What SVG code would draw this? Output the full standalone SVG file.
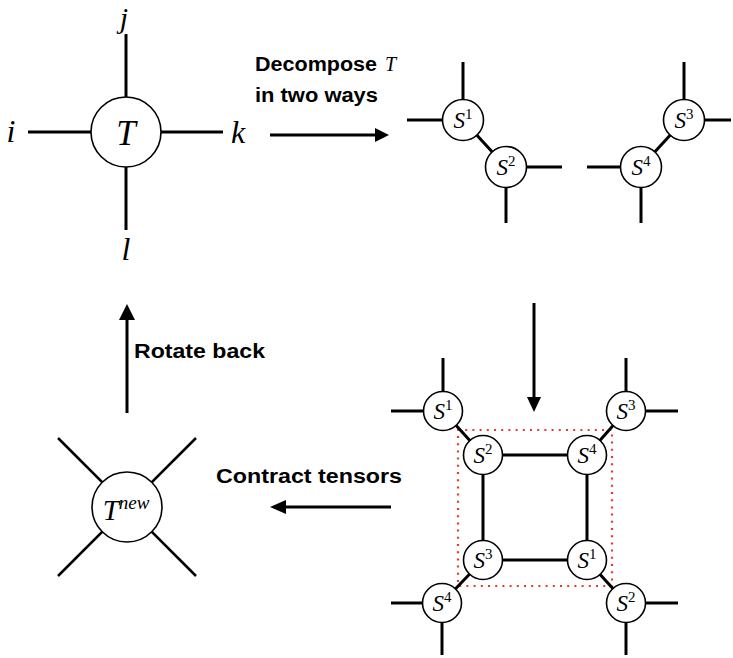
<svg xmlns="http://www.w3.org/2000/svg" width="733" height="658" viewBox="0 0 733 658">
<defs>
<style>
.bg{fill:#fff}
.leg{stroke:#000;stroke-width:3;fill:none}
.bond{stroke:#000;stroke-width:3;fill:none}
.thin{stroke:#000;stroke-width:2.5;fill:none}
.node{fill:#fff;stroke:#000;stroke-width:1.6}
.math{font-family:"Liberation Serif","Times New Roman",serif;font-style:italic;fill:#000}
.sl{font-family:"Liberation Serif","Times New Roman",serif;font-style:italic;font-size:23px;fill:#000;text-anchor:middle}
.sup{font-style:normal;font-size:15px}
.lbl{font-family:"Liberation Sans",Arial,sans-serif;font-weight:bold;font-size:20px;fill:#000}
.arr{stroke:#000;stroke-width:3;fill:none}
.head{fill:#000}
.box{fill:none;stroke:#e8382e;stroke-width:2.2;stroke-dasharray:2 5.2}
</style>
</defs>
<rect class="bg" x="0" y="0" width="733" height="658"/>

<!-- Tensor T -->
<g id="T">
<line class="leg" x1="126" y1="34" x2="126" y2="97"/>
<line class="leg" x1="126" y1="167" x2="126" y2="230"/>
<line class="leg" x1="28" y1="132" x2="91" y2="132"/>
<line class="leg" x1="161" y1="132" x2="223" y2="132"/>
<circle class="node" cx="126" cy="132" r="35"/>
<text class="math" x="126" y="145" font-size="35" text-anchor="middle">T</text>
<text class="math" x="124" y="28" font-size="30" text-anchor="middle">j</text>
<text class="math" x="11" y="142" font-size="32" text-anchor="middle">i</text>
<text class="math" x="238" y="143" font-size="32" text-anchor="middle">k</text>
<text class="math" x="126" y="260" font-size="32" text-anchor="middle">l</text>
</g>

<!-- Decomposition 1: S1-S2 -->
<g id="decomp1">
<line class="leg" x1="463" y1="62" x2="463" y2="100"/>
<line class="leg" x1="407" y1="120" x2="443" y2="120"/>
<line class="leg" x1="526" y1="167" x2="562" y2="167"/>
<line class="leg" x1="506" y1="187" x2="506" y2="223"/>
<line class="bond" x1="463" y1="120" x2="506" y2="167"/>
<g id="d1-S1"><circle class="node" cx="463" cy="120" r="20.5"/><text class="sl" x="463" y="128">S<tspan class="sup" dy="-9">1</tspan></text></g>
<g id="d1-S2"><circle class="node" cx="506" cy="167" r="20.5"/><text class="sl" x="506" y="175">S<tspan class="sup" dy="-9">2</tspan></text></g>
</g>

<!-- Decomposition 2: S3-S4 -->
<g id="decomp2">
<line class="leg" x1="684" y1="62" x2="684" y2="100"/>
<line class="leg" x1="704" y1="120" x2="731" y2="120"/>
<line class="leg" x1="587" y1="167" x2="621" y2="167"/>
<line class="leg" x1="641" y1="187" x2="641" y2="223"/>
<line class="bond" x1="684" y1="120" x2="641" y2="167"/>
<g id="d2-S3"><circle class="node" cx="684" cy="120" r="20.5"/><text class="sl" x="684" y="128">S<tspan class="sup" dy="-9">3</tspan></text></g>
<g id="d2-S4"><circle class="node" cx="641" cy="167" r="20.5"/><text class="sl" x="641" y="175">S<tspan class="sup" dy="-9">4</tspan></text></g>
</g>

<!-- Network -->
<g id="network">
<rect class="box" x="458" y="430" width="154" height="156"/>
<line class="leg" x1="443" y1="358" x2="443" y2="392"/>
<line class="leg" x1="391" y1="411" x2="424" y2="411"/>
<line class="leg" x1="626" y1="358" x2="626" y2="392"/>
<line class="leg" x1="645" y1="411" x2="678" y2="411"/>
<line class="leg" x1="391" y1="603" x2="423" y2="603"/>
<line class="leg" x1="442" y1="622" x2="442" y2="655"/>
<line class="leg" x1="645" y1="603" x2="678" y2="603"/>
<line class="leg" x1="626" y1="622" x2="626" y2="655"/>
<line class="bond" x1="443" y1="411" x2="483" y2="455"/>
<line class="bond" x1="626" y1="411" x2="587" y2="455"/>
<line class="bond" x1="442" y1="603" x2="483" y2="560"/>
<line class="bond" x1="626" y1="603" x2="587" y2="560"/>
<line class="bond" x1="483" y1="455" x2="587" y2="455"/>
<line class="bond" x1="483" y1="560" x2="587" y2="560"/>
<line class="bond" x1="483" y1="455" x2="483" y2="560"/>
<line class="bond" x1="587" y1="455" x2="587" y2="560"/>
<g id="n-oS1"><circle class="node" cx="443" cy="411" r="19.5"/><text class="sl" x="443" y="419">S<tspan class="sup" dy="-9">1</tspan></text></g>
<g id="n-oS3"><circle class="node" cx="626" cy="411" r="19.5"/><text class="sl" x="626" y="419">S<tspan class="sup" dy="-9">3</tspan></text></g>
<g id="n-iS2"><circle class="node" cx="483" cy="455" r="19.5"/><text class="sl" x="483" y="463">S<tspan class="sup" dy="-9">2</tspan></text></g>
<g id="n-iS4"><circle class="node" cx="587" cy="455" r="19.5"/><text class="sl" x="587" y="463">S<tspan class="sup" dy="-9">4</tspan></text></g>
<g id="n-iS3"><circle class="node" cx="483" cy="560" r="19.5"/><text class="sl" x="483" y="568">S<tspan class="sup" dy="-9">3</tspan></text></g>
<g id="n-iS1"><circle class="node" cx="587" cy="560" r="19.5"/><text class="sl" x="587" y="568">S<tspan class="sup" dy="-9">1</tspan></text></g>
<g id="n-oS4"><circle class="node" cx="442" cy="603" r="19.5"/><text class="sl" x="442" y="611">S<tspan class="sup" dy="-9">4</tspan></text></g>
<g id="n-oS2"><circle class="node" cx="626" cy="603" r="19.5"/><text class="sl" x="626" y="611">S<tspan class="sup" dy="-9">2</tspan></text></g>
</g>

<!-- T new -->
<g id="Tnew">
<line class="thin" x1="58" y1="438" x2="196" y2="576"/>
<line class="thin" x1="196" y1="438" x2="58" y2="576"/>
<circle class="node" cx="127" cy="507" r="35"/>
<text class="math" x="126" y="520" text-anchor="middle"><tspan font-size="29">T</tspan><tspan font-size="19" dy="-11">new</tspan></text>
</g>

<!-- Connectors -->
<g id="connectors">
<line class="arr" x1="270" y1="135" x2="377" y2="135"/>
<polygon class="head" points="389,135 375,128 375,142"/>
<line class="arr" x1="534" y1="303" x2="534" y2="399"/>
<polygon class="head" points="534,412 527,397 541,397"/>
<line class="arr" x1="391" y1="507" x2="284" y2="507"/>
<polygon class="head" points="270,507 286,500 286,514"/>
<line class="arr" x1="127" y1="413" x2="127" y2="318"/>
<polygon class="head" points="127,304 119,320 135,320"/>
</g>

<g id="labels">
<text class="lbl" x="255" y="71" textLength="122" lengthAdjust="spacingAndGlyphs">Decompose</text>
<text class="math" x="385" y="71" font-size="20">T</text>
<text class="lbl" x="255" y="102" textLength="123" lengthAdjust="spacingAndGlyphs">in two ways</text>
<text class="lbl" x="134" y="358" textLength="131" lengthAdjust="spacingAndGlyphs">Rotate back</text>
<text class="lbl" x="216" y="483" textLength="186" lengthAdjust="spacingAndGlyphs">Contract tensors</text>
</g>
</svg>
